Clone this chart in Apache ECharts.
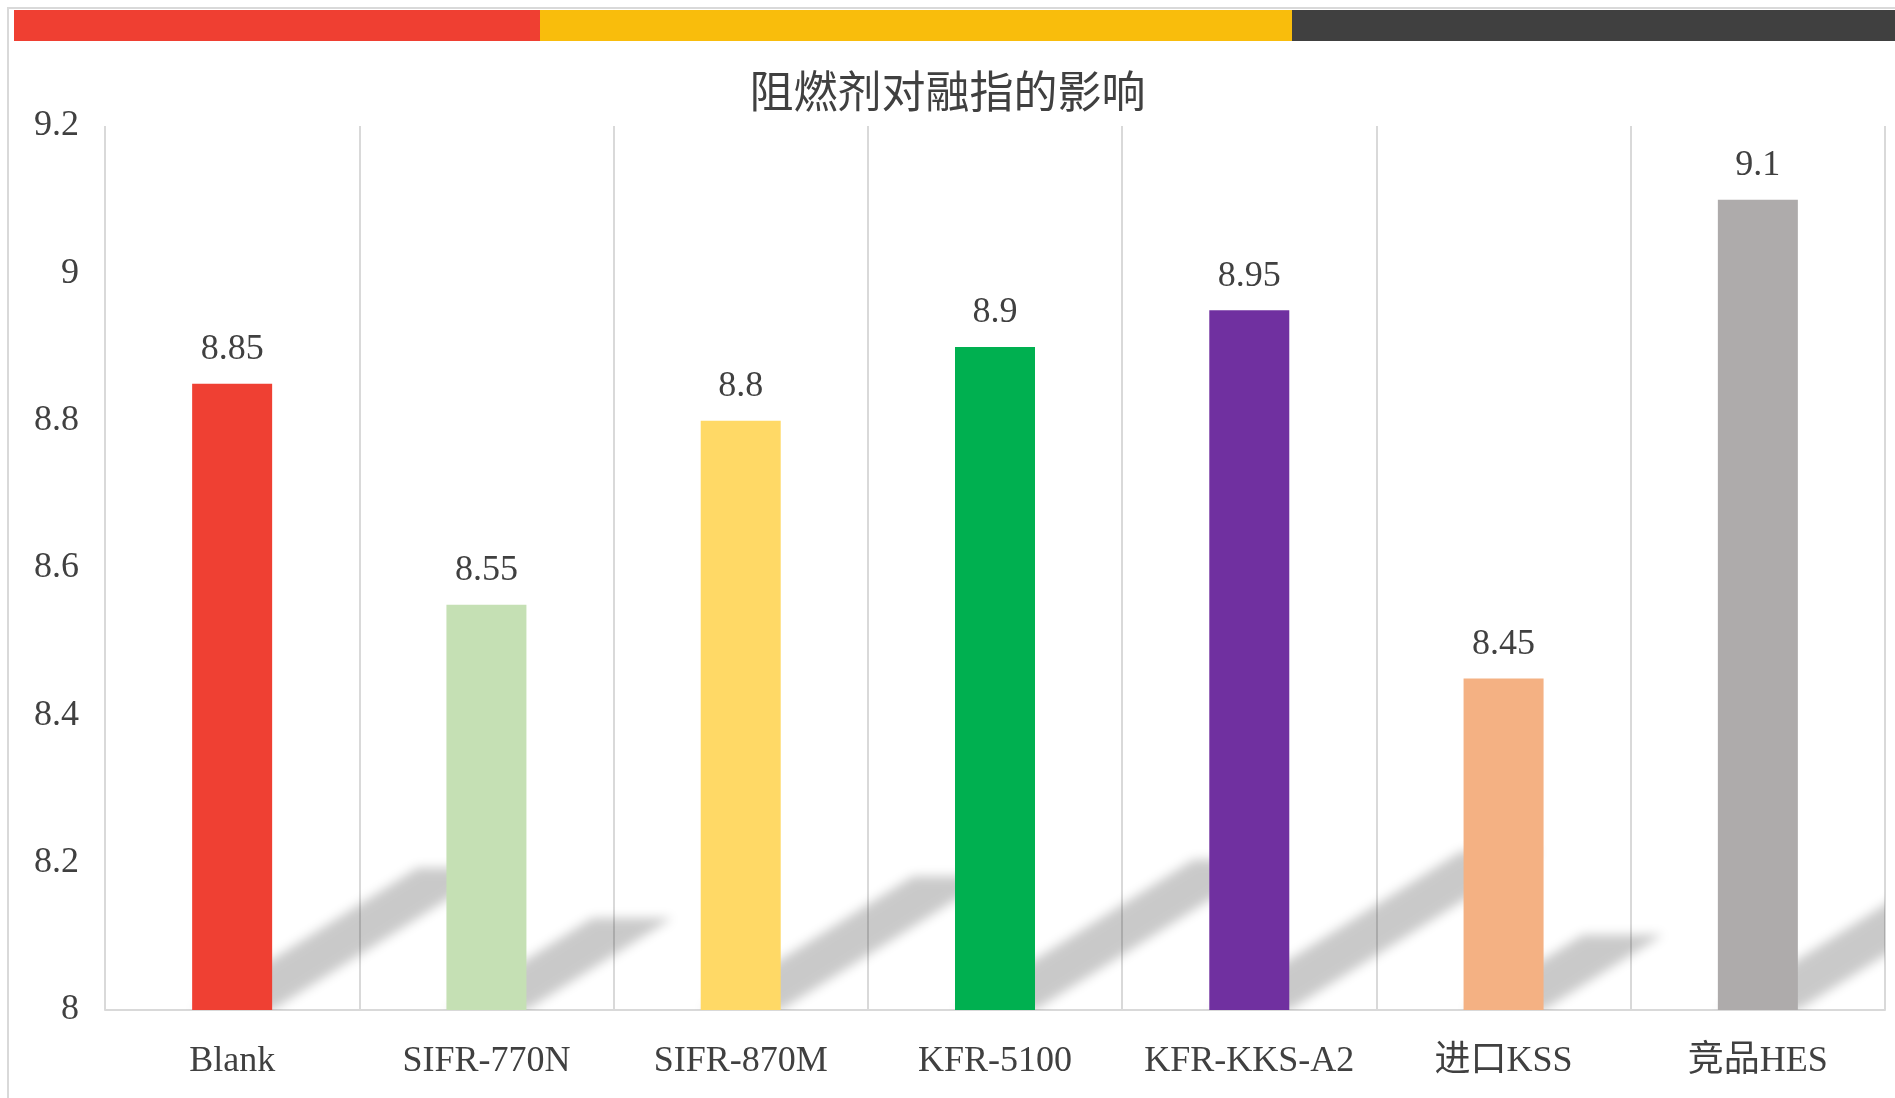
<!DOCTYPE html>
<html>
<head>
<meta charset="utf-8">
<script src="https://cdn.jsdelivr.net/npm/echarts@6/dist/echarts.min.js"></script>
<style>
html,body{margin:0;padding:0;background:#fff;}
#chart{width:1895px;height:1098px;}
</style>
</head>
<body>
<div id="chart"></div>
<script>
// ---- data ----
var titleText = '阻燃剂对融指的影响';
var categories = ['Blank', 'SIFR-770N', 'SIFR-870M', 'KFR-5100', 'KFR-KKS-A2', '进口KSS', '竞品HES'];
var values = [8.85, 8.55, 8.8, 8.9, 8.95, 8.45, 9.1];
var barColors = ['#EF4033', '#C5E0B4', '#FFD966', '#00B050', '#7030A0', '#F4B183', '#AEABAB'];
var yMin = 8, yMax = 9.2, yInterval = 0.2;

var serif = '"Liberation Serif", "Times New Roman", "Noto Sans CJK SC", serif';
var chart = echarts.init(document.getElementById('chart'));
var BAR_W = 80;
var SHIFT = 3000; // draw shadow shape off-canvas, show only its blurred canvas shadow

var option = {
  backgroundColor: '#ffffff',
  animation: false,
  title: {
    text: titleText,
    left: 'center',
    top: 64,
    textStyle: {fontFamily: '"Noto Sans CJK SC", sans-serif', fontSize: 44, fontWeight: 'normal', color: '#404040'}
  },
  graphic: [
    {type: 'rect', shape: {x: 8, y: 8, width: 1900, height: 1100}, style: {fill: 'none', stroke: '#D9D9D9', lineWidth: 2}, silent: true},
    {type: 'rect', shape: {x: 14, y: 10, width: 526, height: 31}, style: {fill: '#EF3F32'}, silent: true},
    {type: 'rect', shape: {x: 540, y: 10, width: 752, height: 31}, style: {fill: '#F9BD0C'}, silent: true},
    {type: 'rect', shape: {x: 1292, y: 10, width: 610, height: 31}, style: {fill: '#404040'}, silent: true}
  ],
  grid: {left: 105, right: 10, top: 126, bottom: 88, containLabel: false},
  xAxis: {
    type: 'category',
    data: categories,
    axisTick: {show: false},
    axisLine: {show: true, lineStyle: {color: '#D9D9D9', width: 2}},
    splitLine: {show: true, lineStyle: {color: '#D9D9D9', width: 2}},
    axisLabel: {fontFamily: serif, fontSize: 36, color: '#404040', margin: 34, interval: 0}
  },
  yAxis: {
    type: 'value',
    min: yMin, max: yMax, interval: yInterval,
    axisLine: {show: false},
    axisTick: {show: false},
    splitLine: {show: false},
    axisLabel: {fontFamily: serif, fontSize: 36, color: '#404040', margin: 26, padding: [5, 0, 0, 0]}
  },
  series: [
    {
      type: 'custom',
      z: 1,
      clip: true,
      silent: true,
      data: values.map(function (v, i) { return [i, v]; }),
      renderItem: function (params, api) {
        var base = api.coord([api.value(0), yMin]);
        var top = api.coord([api.value(0), api.value(1)]);
        var h = base[1] - top[1];
        var L = base[0] - BAR_W / 2, R = base[0] + BAR_W / 2, B = base[1];
        var dx = 0.36 * h, dy = 0.227 * h;
        return {
          type: 'polygon',
          shape: {points: [[L - SHIFT, B], [R - SHIFT, B], [R + dx - SHIFT, B - dy], [L + dx - SHIFT, B - dy]]},
          style: {fill: '#000', shadowBlur: 11, shadowColor: 'rgba(0,0,0,0.21)', shadowOffsetX: SHIFT, shadowOffsetY: 0}
        };
      }
    },
    {
      type: 'bar',
      z: 2,
      barWidth: BAR_W,
      data: values,
      itemStyle: {color: function (p) { return barColors[p.dataIndex]; }},
      label: {
        show: true, position: 'top', distance: 16,
        fontFamily: serif, fontSize: 36, color: '#404040',
        formatter: function (p) { return String(p.value); }
      }
    }
  ]
};
chart.setOption(option);
</script>
</body>
</html>
